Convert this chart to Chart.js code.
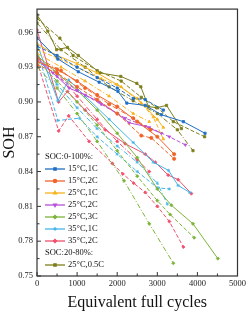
<!DOCTYPE html>
<html lang="en">
<head>
  <meta charset="UTF-8" />
  <title>SOH vs cycles</title>
  <script src="https://cdn.jsdelivr.net/npm/chart.js"></script>
  <style>
    html, body { margin: 0; padding: 0; background: #fff; }
    #wrap { width: 249px; height: 312px; }
  </style>
</head>
<body>
  <div id="wrap"><canvas id="sohChart" width="249" height="312"></canvas></div>
  <script>
    // [equivalent full cycles, SOH], 2-3 cells per condition
    const t15c1_a = [[0,0.955],[520,0.937],[1030,0.926],[1550,0.917],[2020,0.909],[2240,0.899],[2700,0.897],[3100,0.889],[3650,0.883],[4190,0.873]];
    const t15c1_b = [[0,0.948],[500,0.940],[1000,0.930],[1500,0.921],[2000,0.912],[2400,0.903],[2700,0.902],[3150,0.893]];

    const t15c2_a = [[0,0.935],[500,0.928],[1000,0.918],[1500,0.906],[2000,0.896],[2500,0.883],[3000,0.870],[3420,0.855]];
    const t15c2_b = [[0,0.932],[500,0.925],[1000,0.913],[1500,0.902],[2000,0.890],[2600,0.871],[2850,0.869],[3420,0.851]];
    const t15c2_c = [[0,0.938],[600,0.927],[1200,0.912],[1800,0.898],[2400,0.886],[2830,0.876]];

    const t25c1_a = [[0,0.950],[500,0.940],[1000,0.933],[1500,0.925],[2000,0.915],[2500,0.903],[3000,0.885],[3150,0.878]];
    const t25c1_b = [[0,0.945],[500,0.938],[1000,0.930],[1600,0.920],[2100,0.913],[2600,0.899],[2900,0.887],[3150,0.868]];
    const t25c1_c = [[0,0.942],[600,0.930],[1200,0.918],[1800,0.905],[2400,0.890],[2800,0.883]];

    const t25c2_a = [[0,0.938],[400,0.925],[800,0.912],[1200,0.906],[1550,0.900],[2000,0.890],[2300,0.882],[2700,0.879],[3100,0.873]];
    const t25c2_b = [[0,0.936],[500,0.922],[1000,0.910],[1600,0.898],[2200,0.886],[2800,0.878],[3300,0.870],[3700,0.863]];

    const t25c3_a = [[0,0.940],[500,0.925],[1000,0.910],[1500,0.893],[2000,0.873],[2500,0.852],[3000,0.825],[3350,0.811],[3890,0.795],[4510,0.765]];
    const t25c3_b = [[0,0.935],[500,0.918],[1000,0.900],[1500,0.880],[2000,0.858],[2500,0.836],[3000,0.815],[3320,0.803],[3920,0.783]];
    const t25c3_c = [[0,0.930],[500,0.912],[1000,0.890],[1500,0.866],[2170,0.832],[2800,0.795],[3400,0.761]];

    const t35c1_a = [[0,0.950],[520,0.901],[790,0.919],[1200,0.905],[1800,0.885],[2400,0.865],[2900,0.848],[3280,0.841],[3520,0.828],[3810,0.822]];
    const t35c1_b = [[0,0.945],[520,0.884],[1060,0.886],[1500,0.870],[2000,0.855],[2500,0.840],[3000,0.826],[3300,0.825]];
    const t35c1_c = [[0,0.940],[500,0.915],[1000,0.895],[1500,0.877],[2000,0.862],[2500,0.848],[3000,0.830],[3250,0.812]];

    const t35c2_a = [[0,0.962],[540,0.900],[760,0.909],[1200,0.893],[1700,0.876],[2200,0.864],[2700,0.855],[2950,0.848],[3270,0.837],[3520,0.833],[3850,0.821]];
    const t35c2_b = [[0,0.935],[540,0.875],[790,0.888],[1300,0.866],[1880,0.847],[2140,0.838],[2410,0.830],[2700,0.822],[3000,0.810],[3300,0.797],[3650,0.775]];
    const t35c2_c = [[0,0.938],[500,0.925],[1000,0.905],[1500,0.885],[2000,0.866],[2500,0.850],[2800,0.840]];

    const t25c05_a = [[0,0.975],[270,0.961],[490,0.945],[760,0.947],[1030,0.940],[1570,0.925],[2090,0.922],[2490,0.916],[2590,0.913],[2780,0.896],[2980,0.895],[3230,0.897],[3600,0.877]];
    const t25c05_b = [[0,0.972],[570,0.955],[900,0.940],[1500,0.927],[2100,0.918],[2600,0.904],[3000,0.895],[3400,0.883],[4180,0.870]];
    const t25c05_c = [[0,0.968],[600,0.945],[1200,0.930],[1800,0.913],[2400,0.901],[3000,0.890],[3500,0.876],[3890,0.858]];

    const groupLabels = ['15°C,1C', '15°C,2C', '25°C,1C', '25°C,2C', '25°C,3C', '35°C,1C', '35°C,2C', '25°C,0.5C'];
    const groupSeries = [
      [t15c1_a, t15c1_b],
      [t15c2_a, t15c2_b, t15c2_c],
      [t25c1_a, t25c1_b, t25c1_c],
      [t25c2_a, t25c2_b],
      [t25c3_a, t25c3_b, t25c3_c],
      [t35c1_a, t35c1_b, t35c1_c],
      [t35c2_a, t35c2_b, t35c2_c],
      [t25c05_a, t25c05_b, t25c05_c]
    ];
    const xTicks = [0, 1000, 2000, 3000, 4000, 5000];
    const yTicks = [0.75, 0.78, 0.81, 0.84, 0.87, 0.90, 0.93, 0.96];

    const colors = ['#1f6fc5', '#f0642a', '#f7b21a', '#b94fd9', '#7cb43a', '#45b5ea', '#f0506e', '#7d7d1a'];
    const markers = ['rect', 'circle', 'triangle', 'triangle', 'rectRot', 'star', 'rectRot', 'rect'];
    const rotations = [0, 0, 0, 180, 0, 0, 0, 0];
    const dashes = [[], [4, 2], [5, 2, 1, 2]];
    const serif = '"Liberation Serif", "DejaVu Serif", serif';

    const datasets = [];
    groupSeries.forEach((list, g) => {
      list.forEach((pts, k) => {
        datasets.push({
          label: groupLabels[g],
          data: pts.map(p => ({ x: p[0], y: p[1] })),
          showLine: true,
          borderColor: colors[g],
          backgroundColor: colors[g],
          borderWidth: 1,
          borderDash: dashes[k],
          pointStyle: markers[g],
          rotation: rotations[g],
          pointRadius: 1.6,
          pointBorderWidth: 0.8
        });
      });
    });

    // frame, inward ticks and the grouped legend
    const decor = {
      id: 'decor',
      afterDraw(chart) {
        const { ctx, chartArea: a, scales } = chart;
        ctx.save();
        ctx.strokeStyle = '#333';
        ctx.lineWidth = 1.2;
        ctx.strokeRect(a.left, a.top, a.right - a.left, a.bottom - a.top);
        ctx.lineWidth = 1;
        for (let v = 0; v <= 5000; v += 500) {
          const px = scales.x.getPixelForValue(v);
          const len = v % 1000 === 0 ? 4 : 2.5;
          ctx.beginPath(); ctx.moveTo(px, a.bottom); ctx.lineTo(px, a.bottom - len); ctx.stroke();
        }
        for (let i = 0; i < 16; i++) {
          const v = 0.75 + i * 0.015;
          if (v > 0.98) break;
          const py = scales.y.getPixelForValue(v);
          const len = i % 2 === 0 ? 4 : 2.5;
          ctx.beginPath(); ctx.moveTo(a.left, py); ctx.lineTo(a.left + len, py); ctx.stroke();
        }

        ctx.font = '8.5px ' + serif;
        ctx.textBaseline = 'middle';
        ctx.fillStyle = '#111';
        let y = 157;
        const row = 12;
        const drawItem = (g) => {
          ctx.strokeStyle = colors[g];
          ctx.lineWidth = 1.3;
          ctx.setLineDash([]);
          ctx.beginPath(); ctx.moveTo(45, y); ctx.lineTo(65, y); ctx.stroke();
          ctx.fillStyle = colors[g];
          Chart.helpers.drawPoint(ctx, { pointStyle: markers[g], rotation: rotations[g], radius: 1.6, borderWidth: 0.8 }, 55, y);
          ctx.fillStyle = '#111';
          ctx.fillText(groupLabels[g], 68, y);
          y += row;
        };
        ctx.fillText('SOC:0-100%:', 45, y); y += row;
        for (let g = 0; g < 7; g++) drawItem(g);
        ctx.fillText('SOC:20-80%:', 45, y); y += row;
        drawItem(7);
        ctx.restore();
      }
    };

    new Chart(document.getElementById('sohChart').getContext('2d'), {
      type: 'scatter',
      data: { datasets },
      plugins: [decor],
      options: {
        responsive: false,
        animation: false,
        layout: { padding: { top: 4, right: 9, left: 0, bottom: 0 } },
        plugins: { legend: { display: false }, tooltip: { enabled: false } },
        scales: {
          x: {
            type: 'linear',
            min: 0,
            max: 5000,
            afterBuildTicks: s => { s.ticks = xTicks.map(v => ({ value: v })); },
            afterFit: s => { s.height = 36; },
            grid: { display: false, drawTicks: false, tickLength: 0 },
            border: { display: false },
            ticks: { color: '#222', font: { family: serif, size: 8.5 }, padding: 3, maxRotation: 0, callback: v => String(v) },
            title: { display: true, text: 'Equivalent full cycles', color: '#111', font: { family: serif, size: 16 }, padding: { top: 0, bottom: 0 } }
          },
          y: {
            min: 0.75,
            max: 0.98,
            afterBuildTicks: s => { s.ticks = yTicks.map(v => ({ value: v })); },
            afterFit: s => { s.width = 37; },
            grid: { display: false, drawTicks: false, tickLength: 0 },
            border: { display: false },
            ticks: { color: '#222', font: { family: serif, size: 8.5 }, padding: 4, callback: v => v.toFixed(2) },
            title: { display: true, text: 'SOH', color: '#111', font: { family: serif, size: 16 }, padding: 0 }
          }
        }
      }
    });
  </script>
</body>
</html>
